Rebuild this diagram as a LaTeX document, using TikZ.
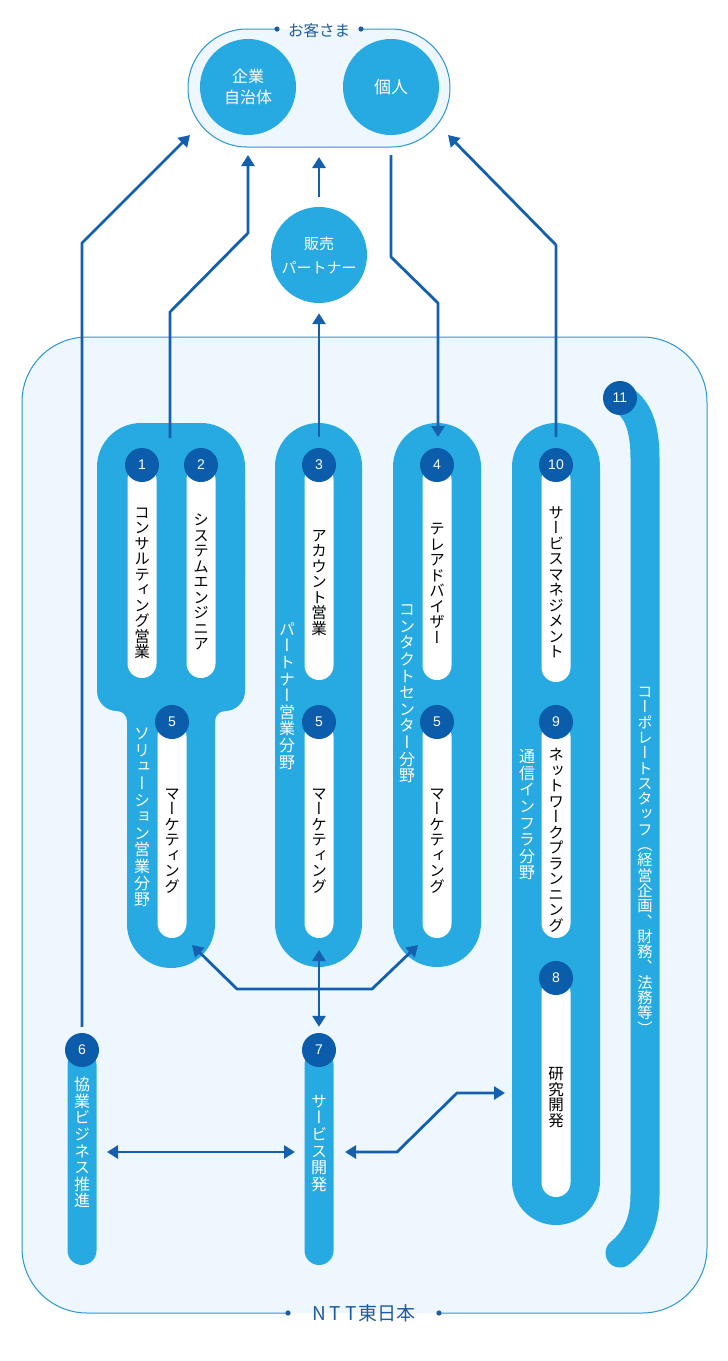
\documentclass[tikz,border=0pt]{standalone}
\usepackage{fontspec}
\setmainfont{Noto Sans CJK JP}
\newfontfamily\jpv[RawFeature={+vert}]{Noto Sans CJK JP}
\newfontfamily\numf{Liberation Sans}
\usetikzlibrary{arrows.meta}
\definecolor{pale}{HTML}{EEF7FD}
\definecolor{frameb}{HTML}{2B96D4}
\definecolor{cyanf}{HTML}{27A9E1}
\definecolor{badgec}{HTML}{0B5CAB}
\definecolor{arrowc}{HTML}{1460AE}
\definecolor{titlec}{HTML}{1F5C9E}
\newdimen\vgapx \vgapx=0pt
\def\vcellx#1{\hbox to 1em{\vrule height .88em depth \dimexpr .12em+\vgapx\relax width 0pt\hss#1\hss}}
\def\vloopx#1{\ifx\relax#1\else\vcellx{#1}\expandafter\vloopx\fi}
\def\vtext#1{\vbox{\offinterlineskip\vloopx#1\relax}}
\newcommand\slotx[3]{\fill[white, rounded corners=14.5pt] ({#1-14.5},#2) rectangle ({#1+14.5},#3);}
\begin{document}
\begin{tikzpicture}[x=1pt,y=-1pt,
  badge/.style={circle, fill=badgec, minimum size=34pt, inner sep=0pt, text=white,
    font=\numf\fontsize{14}{14}\selectfont},
  blk/.style={inner sep=0pt, text=black, font=\jpv\fontsize{15.5}{15.5}\selectfont},
  wht/.style={inner sep=0pt, text=white, font={\jpv\fontsize{16}{16}\selectfont\vgapx=0.6pt}},
  custc/.style={circle, fill=cyanf, minimum size=96pt, inner sep=0pt, text=white, align=center},
  ttl/.style={inner sep=0pt, text=titlec},
  conn/.style={draw=arrowc, line width=2.8pt, line join=round, -{Triangle[width=13pt,length=11pt]}},
  conn2/.style={draw=arrowc, line width=2.8pt, line join=round, {Triangle[width=13pt,length=11pt]}-{Triangle[width=13pt,length=11pt]}}
]
\useasboundingbox (0,0) rectangle (728,1361);
\fill[white] (0,0) rectangle (728,1361);

% NTT frame
\fill[pale, rounded corners=65pt] (22,337) rectangle (707,1313);
\draw[frameb, line width=1pt, rounded corners=65pt] (288,1313) -- (22,1313) -- (22,337) -- (707,337) -- (707,1313) -- (439,1313);
\fill[titlec] (288,1313) circle (2.6pt);
\fill[titlec] (439,1313) circle (2.6pt);
\node[ttl, font=\fontsize{19}{19}\selectfont] (ntt) at (364,1313) {N\kern4ptT\kern4ptT\kern2pt東日本};

% customers capsule
\fill[pale, rounded corners=59pt] (188,29) rectangle (450,147);
\draw[frameb, line width=1pt, rounded corners=59pt] (277,29) -- (188,29) -- (188,147) -- (450,147) -- (450,29) -- (361,29);
\fill[titlec] (277,29) circle (2.6pt);
\fill[titlec] (361,29) circle (2.6pt);
\node[ttl, font=\fontsize{15.5}{15.5}\selectfont] (okyaku) at (319,31) {お客さま};
\node[custc, font=\fontsize{16}{21}\selectfont] (corp) at (248,87) {企業\\自治体};
\node[custc, font=\fontsize{17}{17}\selectfont] (indiv) at (391,87) {個人};
\node[custc, font=\fontsize{15}{24}\selectfont] (partner) at (319,255) {販売\\パートナー};

% group 1 (1,2,5)
\fill[cyanf, rounded corners=44pt] (97,423) rectangle (245,620);
\fill[cyanf, rounded corners=20pt] (97,480) rectangle (245,711);
\fill[cyanf, rounded corners=44pt] (127,650) rectangle (215,968);
\fill[cyanf] (117,711) -- (127,711) -- (127,721) .. controls (127,715.5) and (122.5,711) .. (117,711);
\fill[cyanf] (225,711) -- (215,711) -- (215,721) .. controls (215,715.5) and (219.5,711) .. (225,711);
% group 2, 3, 4
\fill[cyanf, rounded corners=43.5pt] (275,423) rectangle (362,967);
\fill[cyanf, rounded corners=44pt] (393,423) rectangle (481,967);
\fill[cyanf, rounded corners=44pt] (512,423) rectangle (600,1225);
% bars 6, 7
\fill[cyanf, rounded corners=14.5pt] (67.5,1050) rectangle (96.5,1265);
\fill[cyanf, rounded corners=14.5pt] (304.5,1050) rectangle (333.5,1265);
% group 11
\draw[cyanf, line width=29pt, line cap=round] (620,398) .. controls (638,407) and (645,428) .. (645,458) -- (645,1195) .. controls (645,1222) and (636,1240) .. (620,1253);

% slots
\slotx{142}{465}{678}
\slotx{201}{465}{678}
\slotx{319}{465}{680}
\slotx{437}{465}{680}
\slotx{556}{465}{682}
\slotx{172}{722}{938}
\slotx{319}{722}{938}
\slotx{437}{722}{938}
\slotx{556}{722}{938}
\slotx{556}{978}{1197}

% badges
\node[badge] (b1) at (142,465) {1};
\node[badge] (b2) at (201,465) {2};
\node[badge] (b3) at (319,465) {3};
\node[badge] (b4) at (437,465) {4};
\node[badge] (b10) at (556,465) {10};
\node[badge] (b5a) at (172,722) {5};
\node[badge] (b5b) at (319,722) {5};
\node[badge] (b5c) at (437,722) {5};
\node[badge] (b9) at (556,722) {9};
\node[badge] (b8) at (556,978) {8};
\node[badge] (b11) at (620,398) {11};
\node[badge] (b6) at (82,1050) {6};
\node[badge] (b7) at (319,1050) {7};

% slot texts
\node[blk] (t1) at (142,582) {\vtext{コンサルティング営業}};
\node[blk] (t2) at (201,582) {\vtext{システムエンジニア}};
\node[blk] (t3) at (319,582) {\vtext{アカウント営業}};
\node[blk] (t4) at (437,583) {\vtext{テレアドバイザー}};
\node[blk] (t10) at (556,582) {\vtext{サービスマネジメント}};
\node[blk] (t5a) at (172,840) {\vtext{マーケティング}};
\node[blk] (t5b) at (319,840) {\vtext{マーケティング}};
\node[blk] (t5c) at (437,840) {\vtext{マーケティング}};
\node[blk] (t9) at (556,840) {\vtext{ネットワークプランニング}};
\node[blk] (t8) at (556,1097) {\vtext{研究開発}};

% field labels
\node[wht] (w1) at (142,817) {\vtext{ソリューション営業分野}};
\node[wht] (w2) at (287,696) {\vtext{パートナー営業分野}};
\node[wht] (w3) at (407,693) {\vtext{コンタクトセンター分野}};
\node[wht] (w4) at (527,815) {\vtext{通信インフラ分野}};
\node[wht, font=\jpv\fontsize{15.3}{15.3}\selectfont] (w11) at (645,860) {\vtext{コーポレートスタッフ（経営企画、財務、法務等）}};
\node[wht] (w6) at (82,1143) {\vtext{協業ビジネス推進}};
\node[wht] (w7) at (319,1143) {\vtext{サービス開発}};

% attachment coordinates
\coordinate (custSW) at (190,135);
\coordinate (custSE) at (448,135);
\coordinate (custB1) at (248,155);
\coordinate (custB2) at (319,157);
\coordinate (g1top) at (170,438);
\coordinate (g2top) at (319,437);
\coordinate (g3top) at (438,437);
\coordinate (g4top) at (556,437);
\coordinate (g1bot) at (192,945);
\coordinate (g2bot) at (319,950);
\coordinate (g3bot) at (418,945);
\coordinate (bar6r) at (107,1152);
\coordinate (bar7l) at (295,1152);
\coordinate (bar7r) at (345,1152);
\coordinate (g4l) at (505,1093);

% connectors
\draw[conn] ([yshift=6pt]b6.north) -- (82,243) -- (custSW);
\draw[conn] (g1top) -- (170,312) -- (248,233) -- (custB1);
\draw[conn] ([yshift=10pt]partner.north) -- (custB2);
\draw[conn] (g2top) -- ([yshift=-10pt]partner.south);
\draw[conn] ([yshift=-20pt]indiv.south) -- (391,257) -- (438,303) -- (g3top);
\draw[conn] (g4top) -- (556,245) -- (custSE);
\draw[conn2] ([yshift=6pt]b7.north) -- (g2bot);
\draw[conn2] (g1bot) -- (237,989) -- (372,989) -- (g3bot);
\draw[conn2] (bar6r) -- (bar7l);
\draw[conn2] (bar7r) -- (397,1152) -- (457,1093) -- (g4l);
\end{tikzpicture}
\end{document}
